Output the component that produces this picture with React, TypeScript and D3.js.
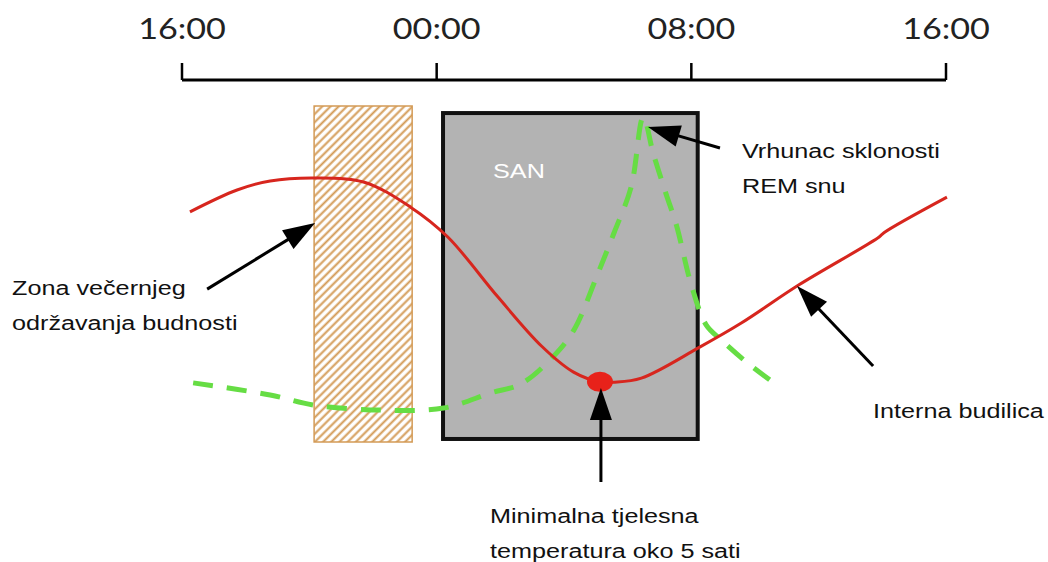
import React from 'react';
import * as d3 from 'd3';

// ---- data ----
const TICK_HOURS = [16, 24, 32, 40];
const TICK_LABELS = ['16:00', '00:00', '08:00', '16:00'];

// internal alarm / body temperature curve (hour of day from 16:00, relative level)
const RED_HOURS = [16.25, 17.73, 18.77, 20.13, 21.7, 23.18, 24.35, 25.92, 27.3, 28.3, 29.13, 29.6, 30.43, 32.22, 33.57, 35.37, 37.9, 38.05, 40.03];
const RED_LEVELS = [68.5, 75, 77.7, 78.6, 77.4, 69.9, 61, 43.2, 28.5, 20.8, 17.9, 17.8, 19, 28, 35.4, 46.7, 61.0, 62.3, 72.9];

// REM sleep propensity
const GREEN_HOURS = [16.35, 18.77, 20.13, 22.24, 24.22, 25.7, 26.65, 27.65, 28.31, 29.07, 29.57, 30.11, 30.49, 30.8, 31.2, 31.53, 32.0, 32.47, 32.94, 33.73, 34.46];
const GREEN_LEVELS = [17.6, 14, 11, 9.5, 10.1, 14.6, 17.3, 25.3, 33.3, 50.3, 62.2, 75.9, 96.7, 86, 74, 64.6, 46.7, 34.8, 30.4, 23.8, 18.5];

const EVENING_ZONE = [20.15, 23.23];
const EVENING_LEVELS = [0, 100];
const SLEEP_ZONE = [24.2, 32.2];
const SLEEP_LEVELS = [0.9, 97.9];
const MIN_TEMP_HOUR = 29.13;
const MIN_TEMP_LEVEL = 17.9;

// arrows: tail -> tip, in (hour, level)
const ARROW_TAIL_HOURS = [16.79, 32.9, 29.16, 37.71];
const ARROW_TAIL_LEVELS = [45.5, 87.5, -11.9, 22.6];
const ARROW_TIP_HOURS = [20.18, 30.64, 29.16, 35.32];
const ARROW_TIP_LEVELS = [65.2, 93.75, 16.1, 46.4];

const LABEL_EVENING = ['Zona večernjeg', 'održavanja budnosti'];
const LABEL_REM = ['Vrhunac sklonosti', 'REM snu'];
const LABEL_ALARM = ['Interna budilica'];
const LABEL_MIN = ['Minimalna tjelesna', 'temperatura oko 5 sati'];
const LABEL_SLEEP = 'SAN';

const W = 1048;
const H = 562;

export default function App() {
  const x = d3.scaleLinear().domain([16, 40]).range([182, 946]);
  const y = d3.scaleLinear().domain([0, 100]).range([442, 106]);

  const redData = RED_HOURS.map((h, i) => [h, RED_LEVELS[i]] as [number, number]);
  const greenData = GREEN_HOURS.map((h, i) => [h, GREEN_LEVELS[i]] as [number, number]);

  const redLine = d3.line<[number, number]>()
    .x(d => x(d[0])).y(d => y(d[1]))
    .curve(d3.curveCatmullRom.alpha(0.5));
  const greenLine = d3.line<[number, number]>()
    .x(d => x(d[0])).y(d => y(d[1]))
    .curve(d3.curveCatmullRom.alpha(0.5));

  const textStyle = { fontFamily: '"Liberation Sans", Arial, sans-serif', fontSize: 21, fill: '#111' };
  const axisFont = { fontFamily: 'Lato, "Open Sans", sans-serif', fontSize: 28, fill: '#222' };

  const renderLines = (lines: string[], tx: number, ty: number, lh: number) =>
    lines.map((t, i) => (
      <text key={i} transform={`translate(${tx},${ty + i * lh}) scale(1.2,1)`} style={textStyle}>{t}</text>
    ));

  const arrows = ARROW_TAIL_HOURS.map((_, i) => {
    const x1 = x(ARROW_TAIL_HOURS[i]);
    const y1 = y(ARROW_TAIL_LEVELS[i]);
    const x2 = x(ARROW_TIP_HOURS[i]);
    const y2 = y(ARROW_TIP_LEVELS[i]);
    const dx = x2 - x1, dy = y2 - y1;
    const len = Math.hypot(dx, dy);
    const ux = dx / len, uy = dy / len;
    const hl = 32, hw = 11;
    const bx = x2 - ux * hl, by = y2 - uy * hl;
    const pts = [
      [x2, y2],
      [bx - uy * hw, by + ux * hw],
      [bx + uy * hw, by - ux * hw],
    ];
    return (
      <g key={i}>
        <line x1={x1} y1={y1} x2={bx + ux * 2} y2={by + uy * 2} stroke="#000" strokeWidth={3} />
        <polygon points={pts.map(p => p.join(',')).join(' ')} fill="#000" />
      </g>
    );
  });

  return (
    <svg width={W} height={H} style={{ position: 'absolute', left: 0, top: 0, background: '#fff' }}>
      <defs>
        <pattern id="hatch" patternUnits="userSpaceOnUse" width={5.8} height={5.8} patternTransform="rotate(45)">
          <rect width={5.8} height={5.8} fill="#fff" />
          <line x1={1.5} y1={0} x2={1.5} y2={5.8} stroke="#D39A55" strokeWidth={2} />
        </pattern>
      </defs>
      <rect width={W} height={H} fill="#fff" />

      {/* top time axis */}
      <line x1={x(TICK_HOURS[0])} x2={x(TICK_HOURS[TICK_HOURS.length - 1])} y1={80} y2={80} stroke="#000" strokeWidth={3} />
      {TICK_HOURS.map((h, i) => (
        <g key={i}>
          <line x1={x(h)} x2={x(h)} y1={63} y2={80} stroke="#000" strokeWidth={2.5} />
          <text transform={`translate(${x(h)},39) scale(1.22,1)`} textAnchor="middle" style={axisFont}>{TICK_LABELS[i]}</text>
        </g>
      ))}

      {/* evening wake maintenance zone */}
      <rect x={x(EVENING_ZONE[0])} y={y(EVENING_LEVELS[1])} width={x(EVENING_ZONE[1]) - x(EVENING_ZONE[0])}
        height={y(EVENING_LEVELS[0]) - y(EVENING_LEVELS[1])} fill="url(#hatch)" stroke="#D39A55" strokeWidth={1.5} />

      {/* sleep box */}
      <rect x={x(SLEEP_ZONE[0])} y={y(SLEEP_LEVELS[1])} width={x(SLEEP_ZONE[1]) - x(SLEEP_ZONE[0])}
        height={y(SLEEP_LEVELS[0]) - y(SLEEP_LEVELS[1])} fill="#B3B3B3" stroke="#111" strokeWidth={4} />
      <text transform={`translate(${x(SLEEP_ZONE[0]) + 50},178) scale(1.2,1)`} style={{ ...textStyle, fill: '#fff' }}>{LABEL_SLEEP}</text>

      {/* curves */}
      <path d={greenLine(greenData) || ''} fill="none" stroke="#66DD44" strokeWidth={5} strokeDasharray="20 14" />
      <path d={redLine(redData) || ''} fill="none" stroke="#D7261E" strokeWidth={3} />
      <ellipse cx={x(MIN_TEMP_HOUR)} cy={y(MIN_TEMP_LEVEL)} rx={13} ry={10} fill="#E8221A" />

      {arrows}

      {renderLines(LABEL_EVENING, 12, 295, 35)}
      {renderLines(LABEL_REM, 742, 158, 35)}
      {renderLines(LABEL_ALARM, 873, 418, 35)}
      {renderLines(LABEL_MIN, 490, 523, 35)}
    </svg>
  );
}
